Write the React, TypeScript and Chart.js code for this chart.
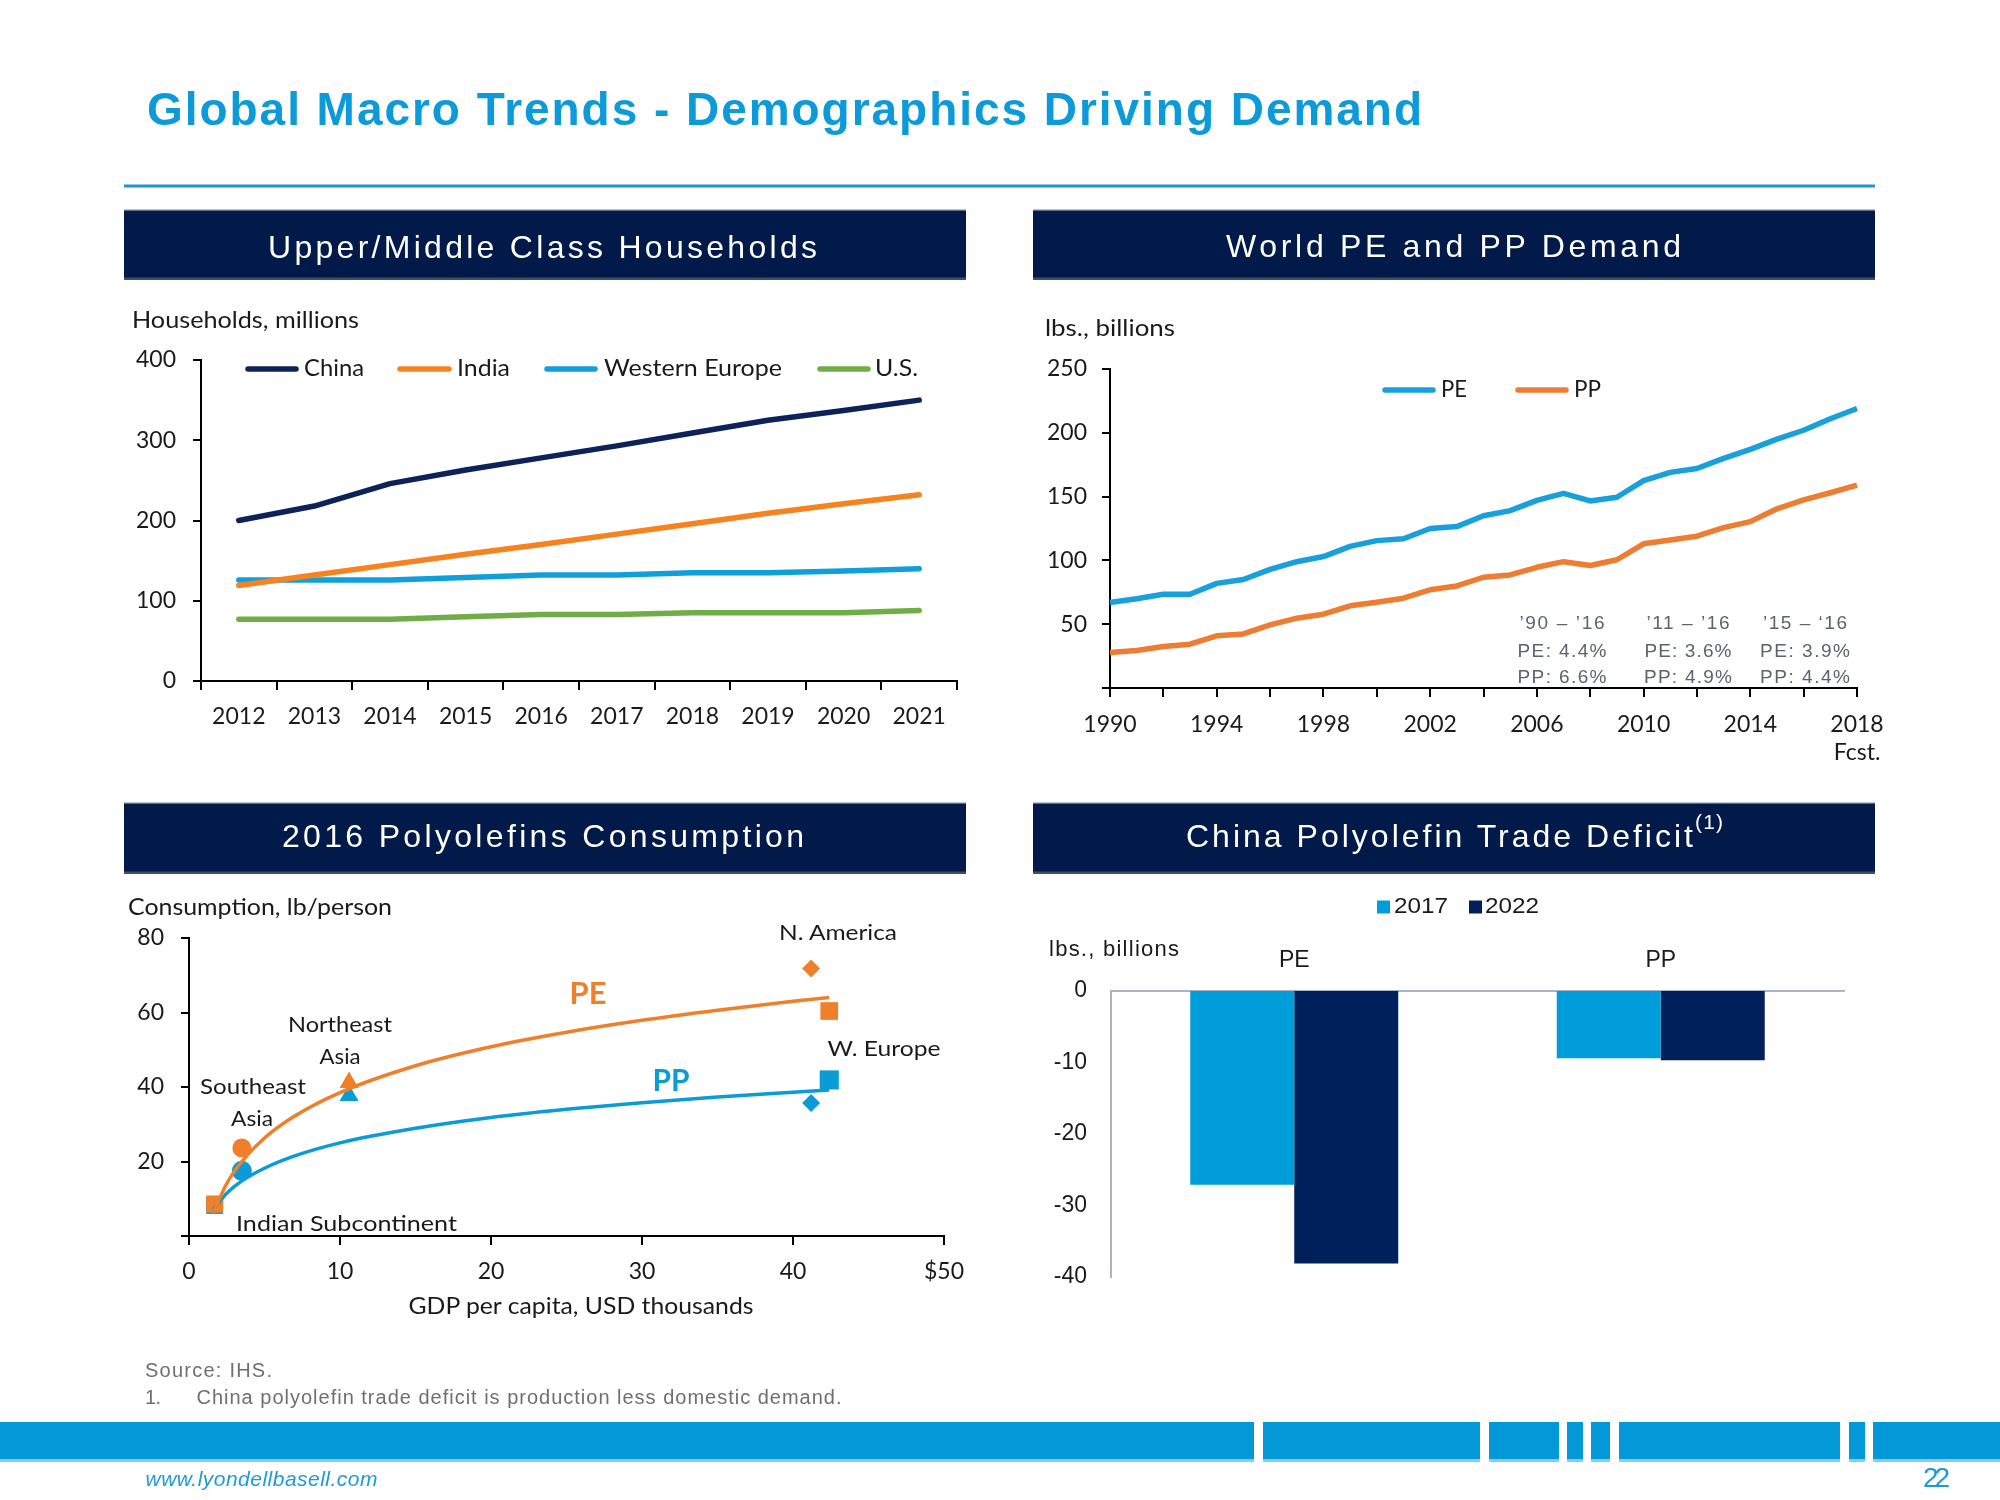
import React, { useEffect, useRef } from 'react';
import { Chart, registerables } from 'chart.js';

Chart.register(...registerables);

// ---------------- Data ----------------
const householdYears = ['2012', '2013', '2014', '2015', '2016', '2017', '2018', '2019', '2020', '2021'];
const householdsChina = [200, 218, 246, 263, 278, 293, 309, 325, 337, 350];
const householdsIndia = [119, 132, 145, 158, 170, 183, 196, 209, 221, 232];
const householdsWesternEurope = [126, 126, 126, 129, 132, 132, 135, 135, 137, 140];
const householdsUS = [77, 77, 77, 80, 83, 83, 85, 85, 85, 88];

const demandYears = [1990, 1991, 1992, 1993, 1994, 1995, 1996, 1997, 1998, 1999, 2000, 2001, 2002, 2003, 2004, 2005, 2006, 2007, 2008, 2009, 2010, 2011, 2012, 2013, 2014, 2015, 2016, 2017, 2018];
const peDemand = [67, 70, 73.5, 73.5, 82, 85, 93, 99, 103, 111, 115.5, 117, 125, 126.5, 135, 139, 147, 152.6, 146.6, 149.5, 162.5, 169, 172, 180, 187, 195, 202, 211, 219];
const ppDemand = [27.8, 29.4, 32.5, 34.3, 40.9, 42.4, 49.5, 54.7, 57.8, 64.4, 67.2, 70.4, 77, 80, 86.8, 88.6, 94.6, 99, 96, 100.5, 113, 116, 119, 125.7, 130.4, 140.4, 147.4, 153, 159];
const growthPeriods = ['\u201990 \u2013 \u201916', '\u201911 \u2013 \u201916', '\u201915 \u2013 \u201816'];
const peGrowth = ['PE: 4.4%', 'PE: 3.6%', 'PE: 3.9%'];
const ppGrowth = ['PP: 6.6%', 'PP: 4.9%', 'PP: 4.4%'];

const regions = ['Indian Subcontinent', 'Southeast Asia', 'Northeast Asia', 'N. America', 'W. Europe'];
const gdpPerCapita = [1.7, 3.5, 10.6, 41.2, 42.4];
const peConsumption = [8.6, 23.6, 41.2, 71.8, 60.4];
const ppConsumption = [8.2, 17.5, 37.7, 35.7, 41.9];
const trendGdp = [1.6, 2.5, 3.5, 5, 7, 10, 15, 20, 25, 30, 35, 40, 42.4];
const peTrend = [6.2, 14.1, 20.0, 26.3, 32.2, 38.5, 45.7, 50.8, 54.7, 57.9, 60.6, 63.0, 64.0];
const ppTrend = [7.1, 11.5, 14.8, 18.2, 21.5, 25.0, 28.9, 31.8, 34.0, 35.8, 37.3, 38.6, 39.2];

const deficitCategories = ['PE', 'PP'];
const deficit2017 = [-27.1, -9.4];
const deficit2022 = [-38.1, -9.7];

// ---------------- Styles ----------------
const LATO = 'Lato, "Open Sans", sans-serif';
const NARROW = '"Liberation Sans Narrow", "Arial Narrow", "Liberation Sans", Arial, sans-serif';
const TXT = '#1a1a1a';
const TITLE_BLUE = '#0c9ad8';
const HEADER_NAVY = '#021a4a';
const LINE_NAVY = '#0d2258';
const ORANGE_A = '#f68220';
const BLUE_A = '#0fa0dc';
const GREEN = '#70ad47';
const BLUE_B = '#18a0dc';
const ORANGE_B = '#ee7d32';
const ORANGE_C = '#f07f2a';
const BLUE_C = '#0b9bd6';
const BLUE_D = '#009ddb';
const NAVY_D = '#00205b';
const GREY_AXIS = '#a8b5c6';
const NOTE = '#5c6270';
const FOOT = '#6f6f6f';

const axisFont = { family: LATO, size: 23 };
const fixedWidth = (w: number) => (scale: any) => { scale.width = w; };
const fixedHeight = (h: number) => (scale: any) => { scale.height = h; };

const manualLegend = {
  id: 'manualLegend',
  afterDraw(chart: any, _args: any, opts: any) {
    if (!opts || !opts.items) return;
    const ctx = chart.ctx;
    opts.items.forEach((it: any) => {
      const ds = chart.data.datasets[it.index];
      ctx.save();
      if (opts.kind === 'line') {
        ctx.strokeStyle = ds.borderColor;
        ctx.lineWidth = opts.lineWidth;
        ctx.lineCap = 'round';
        ctx.beginPath();
        ctx.moveTo(it.x0, opts.y);
        ctx.lineTo(it.x1, opts.y);
        ctx.stroke();
      } else {
        ctx.fillStyle = ds.backgroundColor;
        ctx.fillRect(it.x0, opts.y - opts.box / 2, it.x1 - it.x0, opts.box);
      }
      ctx.font = opts.font;
      ctx.fillStyle = opts.color;
      ctx.textBaseline = 'middle';
      ctx.textAlign = 'left';
      const m = ctx.measureText(ds.label).width;
      ctx.translate(it.tx, opts.y);
      if (it.tw && m > 0) ctx.scale(it.tw / m, 1);
      ctx.fillText(ds.label, 0, 0);
      ctx.restore();
    });
  },
};

const blackGrid = (tickLength: number) => ({ drawOnChartArea: false, drawTicks: true, tickLength, color: '#000', lineWidth: 2 });
const blackBorder = { display: true, color: '#000', width: 2 };

const householdsConfig = (): any => ({
  type: 'line',
  data: {
    labels: householdYears,
    datasets: [
      { label: 'China', data: householdsChina, borderColor: LINE_NAVY, backgroundColor: LINE_NAVY },
      { label: 'India', data: householdsIndia, borderColor: ORANGE_A, backgroundColor: ORANGE_A },
      { label: 'Western Europe', data: householdsWesternEurope, borderColor: BLUE_A, backgroundColor: BLUE_A },
      { label: 'U.S.', data: householdsUS, borderColor: GREEN, backgroundColor: GREEN },
    ],
  },
  options: {
    animation: false,
    responsive: false,
    events: [],
    layout: { padding: { left: 0, top: 70, right: 9, bottom: 0 } },
    elements: {
      point: { radius: 0 },
      line: { borderWidth: 5.5, tension: 0, borderCapStyle: 'round', borderJoinStyle: 'round', fill: false },
    },
    plugins: {
      legend: { display: false },
      tooltip: { enabled: false },
      manualLegend: {
        kind: 'line', y: 79, lineWidth: 5.5, font: `23px ${LATO}`, color: TXT,
        items: [
          { index: 0, x0: 124, x1: 172, tx: 180, tw: 60 },
          { index: 1, x0: 276, x1: 325, tx: 333, tw: 53 },
          { index: 2, x0: 423, x1: 471, tx: 480, tw: 178 },
          { index: 3, x0: 696, x1: 744, tx: 751, tw: 43 },
        ],
      },
    },
    scales: {
      x: {
        type: 'category', offset: true,
        grid: { ...blackGrid(9), offset: true },
        border: blackBorder,
        ticks: { font: axisFont, color: TXT, padding: 13, maxRotation: 0, autoSkip: false },
        afterFit: fixedHeight(59),
      },
      y: {
        min: 0, max: 400,
        grid: blackGrid(8),
        border: blackBorder,
        ticks: { stepSize: 100, font: axisFont, color: TXT, padding: 17 },
        afterFit: fixedWidth(77),
      },
    },
  },
  plugins: [manualLegend],
});

const demandConfig = (): any => ({
  type: 'line',
  data: {
    datasets: [
      { label: 'PE', data: demandYears.map((yr, i) => ({ x: yr, y: peDemand[i] })), borderColor: BLUE_B, backgroundColor: BLUE_B },
      { label: 'PP', data: demandYears.map((yr, i) => ({ x: yr, y: ppDemand[i] })), borderColor: ORANGE_B, backgroundColor: ORANGE_B },
    ],
  },
  options: {
    animation: false,
    responsive: false,
    events: [],
    layout: { padding: { left: 0, top: 79, right: 50, bottom: 0 } },
    elements: {
      point: { radius: 0 },
      line: { borderWidth: 5.5, tension: 0, borderCapStyle: 'butt', borderJoinStyle: 'round', fill: false },
    },
    datasets: { line: { clip: 8 } },
    plugins: {
      legend: { display: false },
      tooltip: { enabled: false },
      manualLegend: {
        kind: 'line', y: 100, lineWidth: 5.5, font: `23px ${LATO}`, color: TXT,
        items: [
          { index: 0, x0: 352, x1: 400, tx: 408, tw: 26 },
          { index: 1, x0: 485, x1: 533, tx: 541, tw: 27 },
        ],
      },
    },
    scales: {
      x: {
        type: 'linear', min: 1990, max: 2018,
        grid: blackGrid(9),
        border: blackBorder,
        ticks: {
          stepSize: 2, autoSkip: false, maxRotation: 0, font: axisFont, color: TXT, padding: 14,
          callback: (v: any) => {
            const yr = Math.round(Number(v));
            if ((yr - 1990) % 4 !== 0) return '';
            return yr === 2018 ? ['2018', 'Fcst.'] : String(yr);
          },
        },
        afterFit: fixedHeight(82),
      },
      y: {
        min: 0, max: 250,
        grid: blackGrid(8),
        border: blackBorder,
        ticks: { stepSize: 50, font: axisFont, color: TXT, padding: 15, callback: (v: any) => (Number(v) === 0 ? '' : String(v)) },
        afterFit: fixedWidth(77),
      },
    },
  },
  plugins: [manualLegend],
});

const markerStyles = ['rect', 'circle', 'triangle', 'rectRot', 'rect'];
const peRadii = [12, 9.5, 11, 9, 12.5];
const ppRadii = [12, 10, 11, 9, 13.5];

const consumptionConfig = (): any => ({
  type: 'scatter',
  data: {
    datasets: [
      {
        type: 'line', label: 'PE trend', data: trendGdp.map((x, i) => ({ x, y: peTrend[i] })),
        borderColor: ORANGE_C, backgroundColor: ORANGE_C, borderWidth: 3.5, pointRadius: 0,
        showLine: true, cubicInterpolationMode: 'monotone', fill: false,
      },
      {
        type: 'line', label: 'PP trend', data: trendGdp.map((x, i) => ({ x, y: ppTrend[i] })),
        borderColor: BLUE_C, backgroundColor: BLUE_C, borderWidth: 3.5, pointRadius: 0,
        showLine: true, cubicInterpolationMode: 'monotone', fill: false,
      },
      {
        label: 'PE', data: gdpPerCapita.map((x, i) => ({ x, y: peConsumption[i], region: regions[i] })),
        pointStyle: markerStyles, pointRadius: peRadii, backgroundColor: ORANGE_C, borderWidth: 0, showLine: false,
      },
      {
        label: 'PP', data: gdpPerCapita.map((x, i) => ({ x, y: ppConsumption[i], region: regions[i] })),
        pointStyle: markerStyles, pointRadius: ppRadii, backgroundColor: BLUE_C, borderWidth: 0, showLine: false,
      },
    ],
  },
  options: {
    animation: false,
    responsive: false,
    events: [],
    layout: { padding: { left: 0, top: 58, right: 46, bottom: 0 } },
    plugins: { legend: { display: false }, tooltip: { enabled: false } },
    scales: {
      x: {
        type: 'linear', min: 0, max: 50,
        grid: blackGrid(9),
        border: blackBorder,
        ticks: { stepSize: 10, font: axisFont, color: TXT, padding: 13, callback: (v: any) => (Number(v) === 50 ? '$50' : String(v)) },
        afterFit: fixedHeight(84),
      },
      y: {
        min: 0, max: 80,
        grid: blackGrid(8),
        border: blackBorder,
        ticks: { stepSize: 20, font: axisFont, color: TXT, padding: 17, callback: (v: any) => (Number(v) === 0 ? '' : String(v)) },
        afterFit: fixedWidth(65),
      },
    },
  },
});

const deficitConfig = (): any => ({
  type: 'bar',
  data: {
    labels: deficitCategories,
    datasets: [
      { label: '2017', data: deficit2017, backgroundColor: BLUE_D, borderWidth: 0 },
      { label: '2022', data: deficit2022, backgroundColor: NAVY_D, borderWidth: 0 },
    ],
  },
  options: {
    animation: false,
    responsive: false,
    events: [],
    layout: { padding: { left: 0, top: 0, right: 56, bottom: 42 } },
    datasets: { bar: { categoryPercentage: 0.5675, barPercentage: 1 } },
    plugins: {
      legend: { display: false },
      tooltip: { enabled: false },
      manualLegend: {
        kind: 'box', y: 27, box: 13, font: `22px ${NARROW}`, color: TXT,
        items: [
          { index: 0, x0: 344, x1: 357, tx: 361, tw: 54 },
          { index: 1, x0: 436, x1: 449, tx: 452, tw: 54 },
        ],
      },
    },
    scales: {
      x: {
        type: 'category', position: 'top',
        grid: { display: false, drawTicks: false },
        border: { display: true, color: GREY_AXIS, width: 2 },
        ticks: { font: { family: NARROW, size: 23 }, color: TXT, padding: 17 },
        afterFit: fixedHeight(111),
      },
      y: {
        min: -40, max: 0,
        grid: { display: false, drawTicks: false },
        border: { display: true, color: GREY_AXIS, width: 2 },
        ticks: { stepSize: 10, font: { family: NARROW, size: 23 }, color: TXT, padding: 24 },
        afterFit: fixedWidth(78),
      },
    },
  },
  plugins: [manualLegend],
});

function ChartCanvas({ x, y, w, h, config }: { x: number; y: number; w: number; h: number; config: () => any }) {
  const ref = useRef<HTMLCanvasElement | null>(null);
  useEffect(() => {
    if (!ref.current) return;
    const chart = new Chart(ref.current, config());
    return () => chart.destroy();
  }, []);
  return (
    <div style={{ position: 'absolute', left: x, top: y, width: w, height: h }}>
      <canvas ref={ref} width={w} height={h} style={{ width: w, height: h, display: 'block' }} />
    </div>
  );
}

function Txt(props: any) {
  const {
    x, y, children, size, w, anchor = 'start', fill = TXT, family = LATO, weight = 'normal',
    italic = false, adjust = 'spacingAndGlyphs', baseline = 'central',
  } = props;
  return (
    <text
      x={x}
      y={y}
      fontSize={size}
      fontFamily={family}
      fontWeight={weight}
      fontStyle={italic ? 'italic' : 'normal'}
      fill={fill}
      textAnchor={anchor}
      dominantBaseline={baseline}
      textLength={w}
      lengthAdjust={adjust}
    >
      {children}
    </text>
  );
}

function HeaderBox({ x, y, h }: { x: number; y: number; h: number }) {
  return (
    <g>
      <rect x={x} y={y} width={842} height={h} fill={HEADER_NAVY} />
      <rect x={x} y={y - 1} width={842} height={1.5} fill="#b9c3d1" />
      <rect x={x} y={y + h - 2.5} width={842} height={2.5} fill="#3e506f" />
    </g>
  );
}

const bandGaps = [[1254, 9], [1480, 9], [1559, 8], [1583, 8], [1610, 9], [1840, 9], [1865, 8]];
const noteCols = [1562, 1688, 1805];
const noteWidths = [[85, 89, 89], [83, 87, 88], [84, 90, 90]];

export default function App() {
  return (
    <div style={{ position: 'absolute', left: 0, top: 0, width: 2000, height: 1500, background: '#fff', overflow: 'hidden' }}>
      <ChartCanvas x={124} y={290} w={842} h={450} config={householdsConfig} />
      <ChartCanvas x={1033} y={290} w={874} h={480} config={demandConfig} />
      <ChartCanvas x={124} y={880} w={866} h={440} config={consumptionConfig} />
      <ChartCanvas x={1033} y={880} w={867} h={439} config={deficitConfig} />

      <svg width={2000} height={1500} style={{ position: 'absolute', left: 0, top: 0, pointerEvents: 'none' }}>
        {/* Title */}
        <Txt x={147} y={125} size={46} w={1275} family={NARROW} weight="bold" fill={TITLE_BLUE} adjust="spacing" baseline="alphabetic">
          Global Macro Trends - Demographics Driving Demand
        </Txt>
        <rect x={124} y={184.5} width={1751} height={3} fill="#1f96d1" />

        {/* Panel headers */}
        <HeaderBox x={124} y={210} h={70} />
        <HeaderBox x={1033} y={210} h={70} />
        <HeaderBox x={124} y={803} h={71} />
        <HeaderBox x={1033} y={803} h={71} />
        <Txt x={268} y={258} size={32} w={549} family={NARROW} fill="#fff" adjust="spacing" baseline="alphabetic">Upper/Middle Class Households</Txt>
        <Txt x={1226} y={257} size={32} w={455} family={NARROW} fill="#fff" adjust="spacing" baseline="alphabetic">World PE and PP Demand</Txt>
        <Txt x={282} y={847} size={32} w={522} family={NARROW} fill="#fff" adjust="spacing" baseline="alphabetic">2016 Polyolefins Consumption</Txt>
        <Txt x={1186} y={847} size={32} w={507} family={NARROW} fill="#fff" adjust="spacing" baseline="alphabetic">China Polyolefin Trade Deficit</Txt>
        <Txt x={1695} y={829} size={21} w={28} family={NARROW} fill="#fff" adjust="spacing" baseline="alphabetic">(1)</Txt>

        {/* Axis unit labels */}
        <Txt x={132} y={319} size={23} w={227}>Households, millions</Txt>
        <Txt x={1045} y={327} size={23} w={130}>lbs., billions</Txt>
        <Txt x={128} y={906} size={23} w={264}>Consumption, lb/person</Txt>
        <Txt x={581} y={1305} size={23} w={345} anchor="middle">GDP per capita, USD thousands</Txt>
        <Txt x={1049} y={948} size={22} w={130} family={NARROW} adjust="spacing">lbs., billions</Txt>

        {/* Growth notes */}
        {noteCols.map((cx, i) => (
          <g key={i}>
            <Txt x={cx} y={622} size={19} w={noteWidths[i][0]} anchor="middle" family={NARROW} fill={NOTE} adjust="spacing">{growthPeriods[i]}</Txt>
            <Txt x={cx} y={650} size={19} w={noteWidths[i][1]} anchor="middle" family={NARROW} fill={NOTE} adjust="spacing">{peGrowth[i]}</Txt>
            <Txt x={cx} y={676} size={19} w={noteWidths[i][2]} anchor="middle" family={NARROW} fill={NOTE} adjust="spacing">{ppGrowth[i]}</Txt>
          </g>
        ))}

        {/* Scatter labels */}
        <Txt x={838} y={931} size={22} w={118} anchor="middle">N. America</Txt>
        <Txt x={340} y={1023} size={22} w={104} anchor="middle">Northeast</Txt>
        <Txt x={340} y={1055} size={22} w={41} anchor="middle">Asia</Txt>
        <Txt x={253} y={1085} size={22} w={106} anchor="middle">Southeast</Txt>
        <Txt x={252} y={1117} size={22} w={42} anchor="middle">Asia</Txt>
        <Txt x={884} y={1047} size={22} w={113} anchor="middle">W. Europe</Txt>
        <Txt x={236} y={1222} size={22} w={221}>Indian Subcontinent</Txt>
        <Txt x={588} y={992} size={30} w={37} anchor="middle" weight="bold" fill={ORANGE_C}>PE</Txt>
        <Txt x={671} y={1079} size={30} w={37} anchor="middle" weight="bold" fill={BLUE_C}>PP</Txt>

        {/* Footer */}
        <Txt x={145} y={1370} size={20} w={127} family={NARROW} fill={FOOT} adjust="spacing">Source: IHS.</Txt>
        <Txt x={145} y={1397} size={20} w={16} family={NARROW} fill={FOOT} adjust="spacing">1.</Txt>
        <Txt x={196.5} y={1397} size={20} w={645} family={NARROW} fill={FOOT} adjust="spacing">China polyolefin trade deficit is production less domestic demand.</Txt>
        <rect x={0} y={1422} width={2000} height={38} fill="#0398d8" />
        <rect x={0} y={1459} width={2000} height={3} fill="#86cdef" />
        {bandGaps.map(([gx, gw], i) => (
          <rect key={i} x={gx} y={1418} width={gw} height={47} fill="#fff" />
        ))}
        <Txt x={145.5} y={1478} size={21} w={232} family={NARROW} italic fill="#1f9ad6" adjust="spacing">www.lyondellbasell.com</Txt>
        <Txt x={1923} y={1477} size={28} w={27} family={NARROW} fill="#1f9ad6" adjust="spacing">22</Txt>
      </svg>
    </div>
  );
}
